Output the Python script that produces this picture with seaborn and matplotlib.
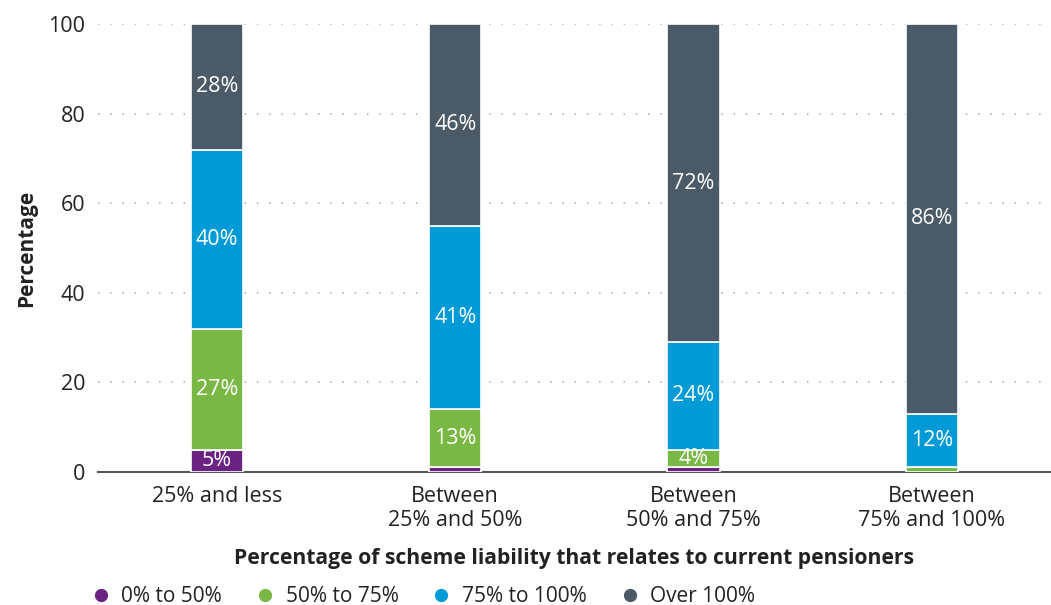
import matplotlib
matplotlib.use("Agg")
import matplotlib.pyplot as plt
import seaborn as sns
import numpy as np
from matplotlib.lines import Line2D

# data
categories = ["25% and less", "Between\n25% and 50%", "Between\n50% and 75%", "Between\n75% and 100%"]
series_names = ["0% to 50%", "50% to 75%", "75% to 100%", "Over 100%"]
purple_vals = [5, 1, 1, 0]
green_vals = [27, 13, 4, 1]
blue_vals = [40, 41, 24, 12]
grey_vals = [28, 45, 71, 87]
purple_labels = ["5%", "", "", ""]
green_labels = ["27%", "13%", "4%", ""]
blue_labels = ["40%", "41%", "24%", "12%"]
grey_labels = ["28%", "46%", "72%", "86%"]

colors = ["#6a2383", "#7ab845", "#009ad6", "#4a5a66"]

sns.set_theme(style="white")
plt.rcParams["font.family"] = ["Open Sans", "DejaVu Sans"]

fig = plt.figure(figsize=(10.51, 6.05), dpi=100)
ax = fig.add_axes([0.093, 0.22, 0.907, 0.74])

series = [purple_vals, green_vals, blue_vals, grey_vals]
labels = [purple_labels, green_labels, blue_labels, grey_labels]
bottoms = np.zeros(len(categories))
for vals, labs, col in zip(series, labels, colors):
    sns.barplot(x=categories, y=vals, bottom=bottoms, color=col, width=0.22,
                saturation=1, edgecolor="white", linewidth=1.2, ax=ax, zorder=3)
    for i, (v, lab) in enumerate(zip(vals, labs)):
        if lab:
            ax.text(i, bottoms[i] + v / 2, lab, ha="center", va="center",
                    color="white", fontsize=15.5, zorder=4)
    bottoms = bottoms + np.array(vals)

ax.set_ylim(0, 100)
ax.set_xlim(-0.5, 3.5)
ax.set_yticks([0, 20, 40, 60, 80, 100])
ax.yaxis.grid(True, linestyle=(0, (1, 7)), color="#aaaaaa", linewidth=1.1, zorder=0)
ax.xaxis.grid(False)
for s in ["top", "right", "left"]:
    ax.spines[s].set_visible(False)
ax.spines["bottom"].set_color("#555555")
ax.spines["bottom"].set_linewidth(1.5)
ax.tick_params(axis="both", length=0, labelsize=15.5, colors="#222222")
ax.tick_params(axis="y", pad=9)
ax.tick_params(axis="x", pad=10)
ax.set_ylabel("Percentage", fontsize=15, fontweight="bold", labelpad=8, color="#222222")
ax.set_xlabel("Percentage of scheme liability that relates to current pensioners",
              fontsize=15.2, fontweight="bold", labelpad=12, color="#222222")

handles = [Line2D([0], [0], marker="o", linestyle="", markersize=8.5,
                  markerfacecolor=c, markeredgecolor=c) for c in colors]
fig.legend(handles, series_names, loc="lower left", bbox_to_anchor=(0.058, -0.034),
           ncol=4, frameon=False, fontsize=15, handletextpad=0.0, columnspacing=1.05,
           labelcolor="#222222")

fig.savefig("out.png", dpi=100)
